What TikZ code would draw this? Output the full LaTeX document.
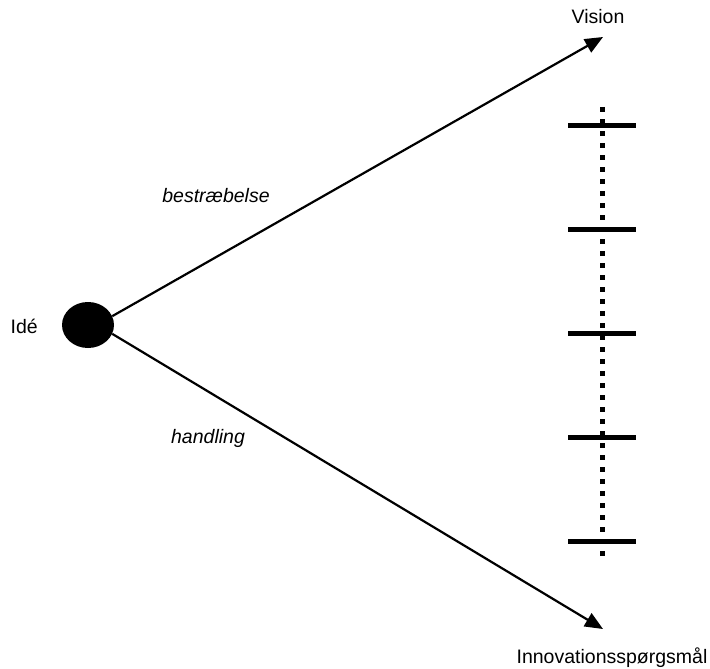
\documentclass[tikz,border=0pt]{standalone}
\usepackage{fontspec}
\setmainfont{Liberation Sans}
\usetikzlibrary{arrows.meta,shapes.geometric}
\begin{document}
\begin{tikzpicture}[x=1pt,y=-1pt,
  lbl/.style={inner sep=0pt,font=\fontsize{19.5}{22}\selectfont},
  conn/.style={line width=2.2pt,-{Triangle[length=18pt,width=15pt]}},
  tick/.style={line width=5pt},
  scaleline/.style={line width=5pt,dash pattern=on 5pt off 7pt}]
\useasboundingbox (0,0) rectangle (710,669);
\node[ellipse,fill=black,minimum width=52pt,minimum height=46pt,inner sep=0pt] (idea) at (88,325) {};
\node[lbl,anchor=east] (idelbl) at (38,326) {Idé};
\coordinate (vis) at (603,37);
\coordinate (inn) at (603,629);
\node[lbl] (vislbl) at (598,17) {Vision};
\node[lbl] (innlbl) at (612,658) {Innovationsspørgsmål};
\draw[conn] (idea.20) -- (vis);
\draw[conn] (idea.-20) -- (inn);
\node[lbl,font=\fontsize{19.5}{22}\selectfont\itshape] (bes) at (216,196) {bestræbelse};
\node[lbl,font=\fontsize{19.5}{22}\selectfont\itshape] (hand) at (208,438) {handling};
\coordinate (top) at (602,107);
\coordinate (bot) at (602,558);
\draw[scaleline] (top) -- (bot);
\foreach \y/\n in {125/t1,229/t2,333/t3,437/t4,541/t5}{
  \coordinate (\n a) at (568,\y);
  \coordinate (\n b) at (636,\y);
  \draw[tick] (\n a) -- (\n b);
}
\end{tikzpicture}
\end{document}
